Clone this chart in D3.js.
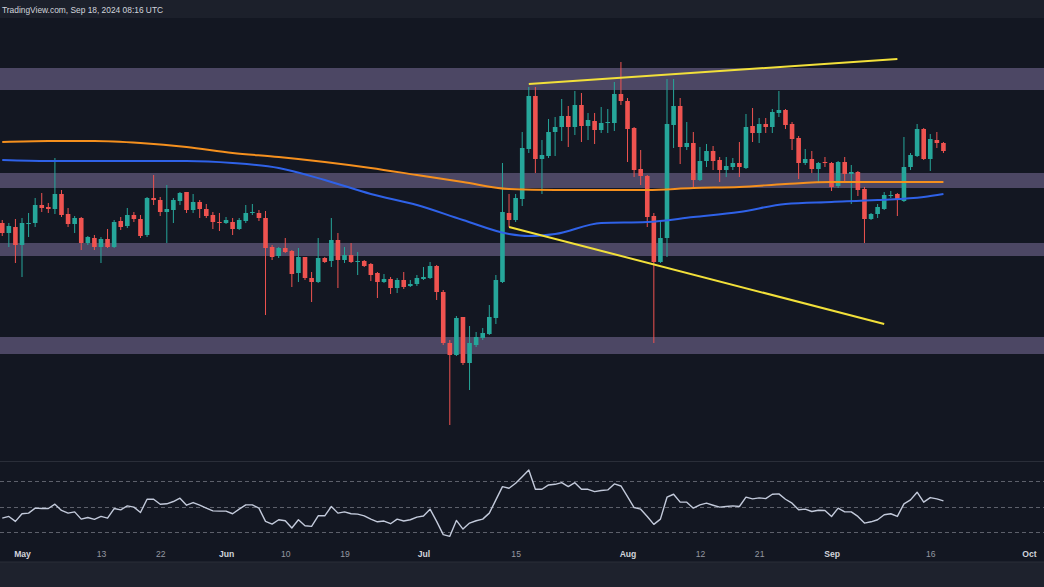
<!DOCTYPE html>
<html>
<head>
<meta charset="utf-8">
<script src="https://cdn.jsdelivr.net/npm/d3@7"></script>
<style>
  body { margin: 0; background: #131722; overflow: hidden; }
  svg { display: block; }
</style>
</head>
<body>
<script>
// daily candles, first one is Apr 28 2024, last one Sep 18 2024
const firstDay = new Date(Date.UTC(2024, 3, 28));

const opens = [
  .437, .427, .433, .415, .436, .437, .455, .453, .451, .466,
  .446, .436, .442, .417, .422, .413, .421, .413, .439, .434,
  .445, .441, .425, .462, .460, .448, .450, .459, .468, .450,
  .458, .451, .445, .438, .437, .438, .431, .439, .447, .447,
  .442, .413, .404, .412, .409, .387, .403, .382, .378, .402,
  .399, .420, .400, .405, .398, .399, .396, .387, .378, .381,
  .372, .380, .374, .376, .381, .382, .394, .368, .317, .305,
  .343, .297, .315, .322, .326, .342, .378, .447, .440, .461,
  .511, .564, .501, .504, .528, .533, .544, .533, .555, .534,
  .539, .530, .537, .537, .566, .559, .532, .491, .484, .444,
  .398, .422, .535, .554, .513, .517, .480, .499, .509, .500,
  .490, .493, .497, .492, .534, .527, .536, .533, .547, .550,
  .536, .522, .497, .501, .491, .498, .497, .474, .498, .486,
  .488, .471, .441, .446, .451, .464, .466, .459, .493, .504,
  .531, .501, .520, .517
];
const highs = [
  .440, .437, .441, .442, .447, .462, .467, .457, .502, .470,
  .452, .444, .443, .424, .425, .423, .431, .440, .443, .452,
  .448, .445, .463, .485, .463, .475, .462, .468, .468, .466,
  .460, .456, .448, .447, .443, .442, .442, .455, .456, .450,
  .449, .415, .413, .422, .410, .412, .403, .388, .422, .403,
  .442, .427, .413, .417, .408, .400, .397, .388, .386, .383,
  .382, .388, .380, .385, .393, .398, .395, .370, .320, .344,
  .343, .334, .328, .332, .355, .385, .497, .466, .466, .528,
  .573, .573, .520, .541, .543, .561, .554, .569, .567, .547,
  .547, .553, .551, .578, .598, .562, .533, .510, .485, .447,
  .438, .581, .581, .562, .538, .528, .513, .516, .514, .503,
  .503, .502, .518, .546, .552, .542, .542, .551, .569, .551,
  .538, .524, .511, .509, .498, .503, .498, .499, .503, .495,
  .489, .473, .447, .456, .468, .469, .467, .523, .507, .536,
  .532, .526, .528, .518
];
const lows = [
  .424, .413, .397, .383, .423, .433, .448, .447, .446, .443,
  .433, .427, .410, .415, .410, .397, .412, .412, .430, .432,
  .438, .422, .423, .455, .444, .417, .437, .455, .447, .447,
  .442, .442, .431, .429, .436, .425, .430, .437, .445, .439,
  .345, .400, .402, .407, .373, .378, .380, .358, .377, .397,
  .393, .372, .397, .397, .385, .393, .379, .362, .377, .366,
  .367, .371, .373, .374, .380, .381, .360, .315, .235, .304,
  .295, .270, .313, .320, .325, .336, .377, .433, .438, .454,
  .507, .487, .466, .502, .504, .519, .513, .525, .518, .520,
  .516, .527, .527, .529, .555, .498, .483, .475, .433, .317,
  .397, .403, .512, .496, .510, .473, .479, .493, .490, .478,
  .483, .490, .483, .491, .518, .517, .527, .527, .543, .531,
  .510, .481, .495, .487, .477, .493, .469, .472, .478, .456,
  .464, .417, .440, .442, .450, .462, .444, .458, .490, .503,
  .500, .489, .512, .507
];
const closes = [
  .427, .434, .415, .437, .437, .455, .452, .451, .466, .445,
  .436, .442, .417, .423, .413, .421, .413, .438, .433, .445,
  .441, .424, .462, .460, .448, .451, .460, .467, .450, .458,
  .451, .444, .438, .437, .440, .431, .440, .447, .448, .442,
  .412, .403, .412, .408, .386, .403, .382, .378, .402, .398,
  .420, .400, .405, .398, .399, .394, .385, .378, .381, .372,
  .380, .373, .376, .382, .383, .394, .368, .317, .305, .342,
  .297, .317, .323, .327, .343, .380, .448, .440, .462, .512,
  .564, .501, .505, .528, .533, .544, .533, .555, .534, .540,
  .530, .537, .538, .566, .559, .531, .490, .484, .443, .398,
  .422, .536, .554, .513, .517, .480, .499, .509, .499, .490,
  .494, .497, .493, .533, .527, .536, .533, .548, .550, .535,
  .521, .497, .501, .491, .497, .497, .473, .498, .486, .488,
  .470, .441, .446, .453, .465, .465, .460, .493, .505, .531,
  .501, .521, .517, .509
];

// moving averages, read at some of the candle indexes
const ma200Idx = [0, 7, 14, 21, 28, 35, 42, 49, 56, 63, 70, 77, 84, 91, 98, 105, 112, 119, 126, 133, 140, 143];
const ma200 = [.518, .519, .519, .517, .513, .507, .503, .498, .492, .485, .478, .471, .470, .470, .470, .472, .473, .476, .478, .478, .478, .478];
const ma100Idx = [0, 7, 14, 21, 28, 35, 42, 49, 56, 63, 70, 77, 80, 84, 91, 98, 105, 112, 119, 126, 133, 140, 143];
const ma100 = [.500, .499, .499, .499, .499, .497, .492, .480, .466, .455, .440, .426, .424, .426, .437, .438, .443, .448, .456, .458, .460, .463, .466];

// RSI, one value per candle
const rsi = [
  40.9, 42.2, 38.3, 44.3, 44.8, 48.7, 48.4, 48.4, 51.8, 46.9,
  44.8, 45.8, 40.1, 41.4, 39.9, 42.2, 40.9, 48.4, 47.4, 50.5,
  49.5, 45.3, 55.7, 55.7, 51.8, 52.1, 53.9, 56.5, 51.0, 53.1,
  51.0, 48.7, 46.6, 46.4, 46.4, 44.3, 47.9, 51.3, 51.3, 48.7,
  38.3, 36.2, 39.6, 38.8, 33.1, 39.6, 34.9, 34.4, 42.7, 42.7,
  50.0, 44.8, 45.8, 44.3, 44.0, 42.7, 40.1, 38.0, 38.6, 36.5,
  40.1, 38.6, 39.6, 41.7, 42.5, 47.9, 38.3, 27.9, 26.6, 39.1,
  32.3, 37.0, 38.8, 40.1, 44.8, 55.2, 65.6, 64.3, 68.2, 73.4,
  78.6, 63.5, 63.5, 66.9, 67.4, 68.7, 65.6, 68.7, 63.5, 63.5,
  61.7, 62.5, 63.0, 67.7, 66.1, 57.8, 49.2, 47.9, 42.2, 36.0,
  40.1, 57.3, 59.6, 53.4, 53.4, 48.7, 51.3, 52.6, 51.0, 49.5,
  50.0, 50.5, 50.0, 57.3, 56.0, 56.8, 56.2, 59.6, 59.9, 55.7,
  52.6, 47.4, 47.9, 46.1, 47.1, 46.9, 42.2, 48.7, 45.8, 45.8,
  42.2, 37.0, 38.0, 39.6, 43.5, 44.3, 42.2, 52.1, 55.2, 61.2,
  53.4, 57.0, 56.0, 54.4
];
const rsiLevels = [70, 50, 30];

// horizontal zones (price from / to)
const zoneTop = [.592, .487, .417, .323];
const zoneBottom = [.570, .472, .404, .306];

// trend lines: [start index, start price, end index, end price]
const trendLines = [
  [80, .576, 136, .601],
  [77, .433, 134, .336]
];

const tickDates = ["2024-05-01", "2024-05-13", "2024-05-22", "2024-06-01", "2024-06-10", "2024-06-19", "2024-07-01",
  "2024-07-15", "2024-08-01", "2024-08-12", "2024-08-21", "2024-09-01", "2024-09-16", "2024-10-01"];
const tickLabels = ["May", "13", "22", "Jun", "10", "19", "Jul", "15", "Aug", "12", "21", "Sep", "16", "Oct"];

const w = 1044;
const h = 587;

const dayOf = (i) => d3.utcDay.offset(firstDay, i);

const xScale = d3
  .scaleUtc()
  .domain([new Date(Date.UTC(2024, 4, 1)), new Date(Date.UTC(2024, 9, 1))])
  .range([22, 1029]);

const yScale = d3.scaleLinear().domain([0.2, 0.66]).range([460, 0]);
const rsiScale = d3.scaleLinear().domain([30, 70]).range([532, 481]);

const svg = d3.select("body").append("svg").attr("width", w).attr("height", h);

svg.append("rect").attr("width", w).attr("height", h).attr("fill", "#131722");

// header strip
svg.append("rect").attr("width", w).attr("height", 18).attr("fill", "#1c202b");
svg
  .append("text")
  .attr("x", 2)
  .attr("y", 13)
  .attr("fill", "#d1d4dc")
  .style("font-family", "Liberation Sans, Arial, sans-serif")
  .style("font-size", "8.4px")
  .text("TradingView.com, Sep 18, 2024 08:16 UTC");

// zones
svg
  .selectAll("rect.zone")
  .data(zoneTop)
  .enter()
  .append("rect")
  .attr("class", "zone")
  .attr("x", 0)
  .attr("width", w)
  .attr("y", (d) => yScale(d))
  .attr("height", (d, i) => yScale(zoneBottom[i]) - yScale(d))
  .attr("fill", "#4c4764");

// candles
const candles = opens.map((o, i) => ({
  date: dayOf(i),
  open: o,
  high: highs[i],
  low: lows[i],
  close: closes[i]
}));
const up = "#26a69a";
const down = "#ef5350";
const colorOf = (d) => (d.close >= d.open ? up : down);

const cg = svg.append("g");
cg.selectAll("line")
  .data(candles)
  .enter()
  .append("line")
  .attr("x1", (d) => xScale(d.date))
  .attr("x2", (d) => xScale(d.date))
  .attr("y1", (d) => yScale(d.high))
  .attr("y2", (d) => yScale(d.low))
  .attr("stroke", colorOf)
  .attr("stroke-width", 1);

cg.selectAll("rect")
  .data(candles)
  .enter()
  .append("rect")
  .attr("x", (d) => xScale(d.date) - 2.3)
  .attr("width", 4.6)
  .attr("y", (d) => yScale(Math.max(d.open, d.close)))
  .attr("height", (d) => Math.max(1, Math.abs(yScale(d.open) - yScale(d.close))))
  .attr("fill", colorOf);

// moving averages
const maLine = d3
  .line()
  .x((d) => xScale(dayOf(d[0])))
  .y((d) => yScale(d[1]))
  .curve(d3.curveMonotoneX);

svg
  .append("path")
  .attr("d", maLine(ma200Idx.map((k, i) => [k, ma200[i]])))
  .attr("fill", "none")
  .attr("stroke", "#f5901e")
  .attr("stroke-width", 2);

svg
  .append("path")
  .attr("d", maLine(ma100Idx.map((k, i) => [k, ma100[i]])))
  .attr("fill", "none")
  .attr("stroke", "#2f62e8")
  .attr("stroke-width", 2);

// trend lines
svg
  .selectAll("line.trend")
  .data(trendLines)
  .enter()
  .append("line")
  .attr("class", "trend")
  .attr("x1", (d) => xScale(dayOf(d[0])))
  .attr("y1", (d) => yScale(d[1]))
  .attr("x2", (d) => xScale(dayOf(d[2])))
  .attr("y2", (d) => yScale(d[3]))
  .attr("stroke", "#f2e03a")
  .attr("stroke-width", 2);

// RSI pane
svg
  .append("line")
  .attr("x1", 0)
  .attr("x2", w)
  .attr("y1", 461.5)
  .attr("y2", 461.5)
  .attr("stroke", "#2a2e39");

svg
  .selectAll("line.level")
  .data(rsiLevels)
  .enter()
  .append("line")
  .attr("class", "level")
  .attr("x1", 0)
  .attr("x2", w)
  .attr("y1", (d) => Math.round(rsiScale(d)) + 0.5)
  .attr("y2", (d) => Math.round(rsiScale(d)) + 0.5)
  .attr("stroke", "#5d606b")
  .attr("stroke-dasharray", "4,3");

svg
  .append("path")
  .attr(
    "d",
    d3
      .line()
      .x((d, i) => xScale(dayOf(i)))
      .y((d) => rsiScale(d))(rsi)
  )
  .attr("fill", "none")
  .attr("stroke", "#c3cadb")
  .attr("stroke-width", 1.4)
  .attr("stroke-linejoin", "round");

// time axis
const xAxis = d3
  .axisBottom(xScale)
  .tickValues(tickDates.map((s) => new Date(s + "T00:00:00Z")))
  .tickFormat((d, i) => tickLabels[i])
  .tickSize(0);

const ax = svg.append("g").attr("transform", "translate(0,548)").call(xAxis);
ax.select(".domain").remove();
ax.selectAll("text")
  .style("font-family", "Liberation Sans, Arial, sans-serif")
  .style("font-size", "8.6px")
  .attr("fill", (d, i) => (isNaN(+tickLabels[i]) ? "#d1d4dc" : "#9598a1"))
  .style("font-weight", (d, i) => (isNaN(+tickLabels[i]) ? "bold" : "normal"));

// bottom strip
svg.append("rect").attr("y", 562).attr("width", w).attr("height", h - 562).attr("fill", "#1e222d");
svg
  .append("line")
  .attr("x1", 0)
  .attr("x2", w)
  .attr("y1", 562)
  .attr("y2", 562)
  .attr("stroke", "#2a2e39");
</script>
</body>
</html>
